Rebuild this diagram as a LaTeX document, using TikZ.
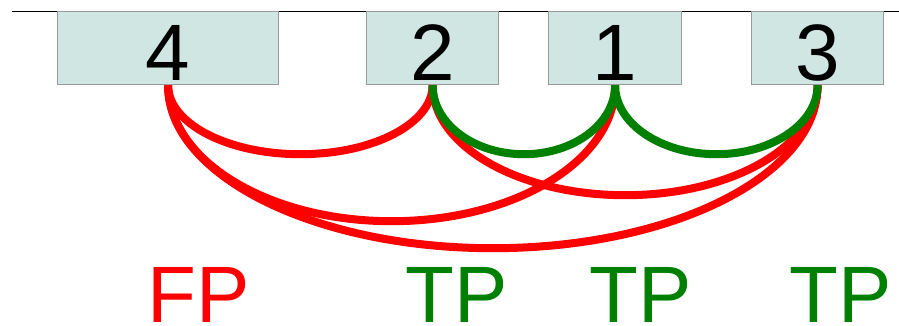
\documentclass[tikz,border=0pt]{standalone}
\usepackage{fontspec}
\setmainfont{Liberation Sans}
\usetikzlibrary{calc}
\definecolor{boxfill}{HTML}{D0E6E3}
\definecolor{boxedge}{HTML}{999999}
\definecolor{fpred}{HTML}{FF0000}
\definecolor{tpgreen}{HTML}{008000}
\begin{document}
\begin{tikzpicture}[x=1pt,y=-1pt,
  tok/.style={draw=boxedge,line width=1.2pt,fill=boxfill,anchor=north west,inner xsep=0pt,inner ysep=0pt,
    text height=69pt,text depth=4pt,font=\fontsize{80}{96}\selectfont},
  lab/.style={anchor=base,font=\fontsize{80}{96}\selectfont,inner sep=0pt},
  redarc/.style={draw=fpred,line width=8pt},
  greenarc/.style={draw=tpgreen,line width=8pt}]
\useasboundingbox (0,0) rectangle (899,325);
\coordinate (L0) at (12,11);
\coordinate (L1) at (899,11);
\draw[black,line width=1pt] (L0) -- (L1);
\node[tok,minimum width=221pt] (n4) at (57,11) {4};
\node[tok,minimum width=132pt] (n2) at (366,11) {2};
\node[tok,minimum width=133pt] (n1) at (548,11) {1};
\node[tok,minimum width=132pt] (n3) at (751,11) {3};
% red arcs
\draw[redarc] let \p1=(n4.south),\p2=(n3.south) in (\p1) arc[start angle=180,end angle=360,x radius={(\x2-\x1)/2},y radius=163pt];
\draw[redarc] let \p1=(n4.south),\p2=(n1.south) in (\p1) arc[start angle=180,end angle=360,x radius={(\x2-\x1)/2},y radius=136pt];
\draw[redarc] let \p1=(n2.south),\p2=(n3.south) in (\p1) arc[start angle=180,end angle=360,x radius={(\x2-\x1)/2},y radius=110pt];
\draw[redarc] let \p1=(n4.south),\p2=(n2.south) in (\p1) arc[start angle=180,end angle=360,x radius={(\x2-\x1)/2},y radius=69pt];
% green arcs
\draw[greenarc] let \p1=(n2.south),\p2=(n1.south) in (\p1) arc[start angle=180,end angle=360,x radius={(\x2-\x1)/2},y radius=69pt];
\draw[greenarc] let \p1=(n1.south),\p2=(n3.south) in (\p1) arc[start angle=180,end angle=360,x radius={(\x2-\x1)/2},y radius=69pt];
% labels
\node[lab,text=fpred] (fp) at (199,322) {FP};
\node[lab,text=tpgreen] (tp2) at (457,322) {TP};
\node[lab,text=tpgreen] (tp1) at (641,322) {TP};
\node[lab,text=tpgreen] (tp3) at (841,322) {TP};
\end{tikzpicture}
\end{document}
